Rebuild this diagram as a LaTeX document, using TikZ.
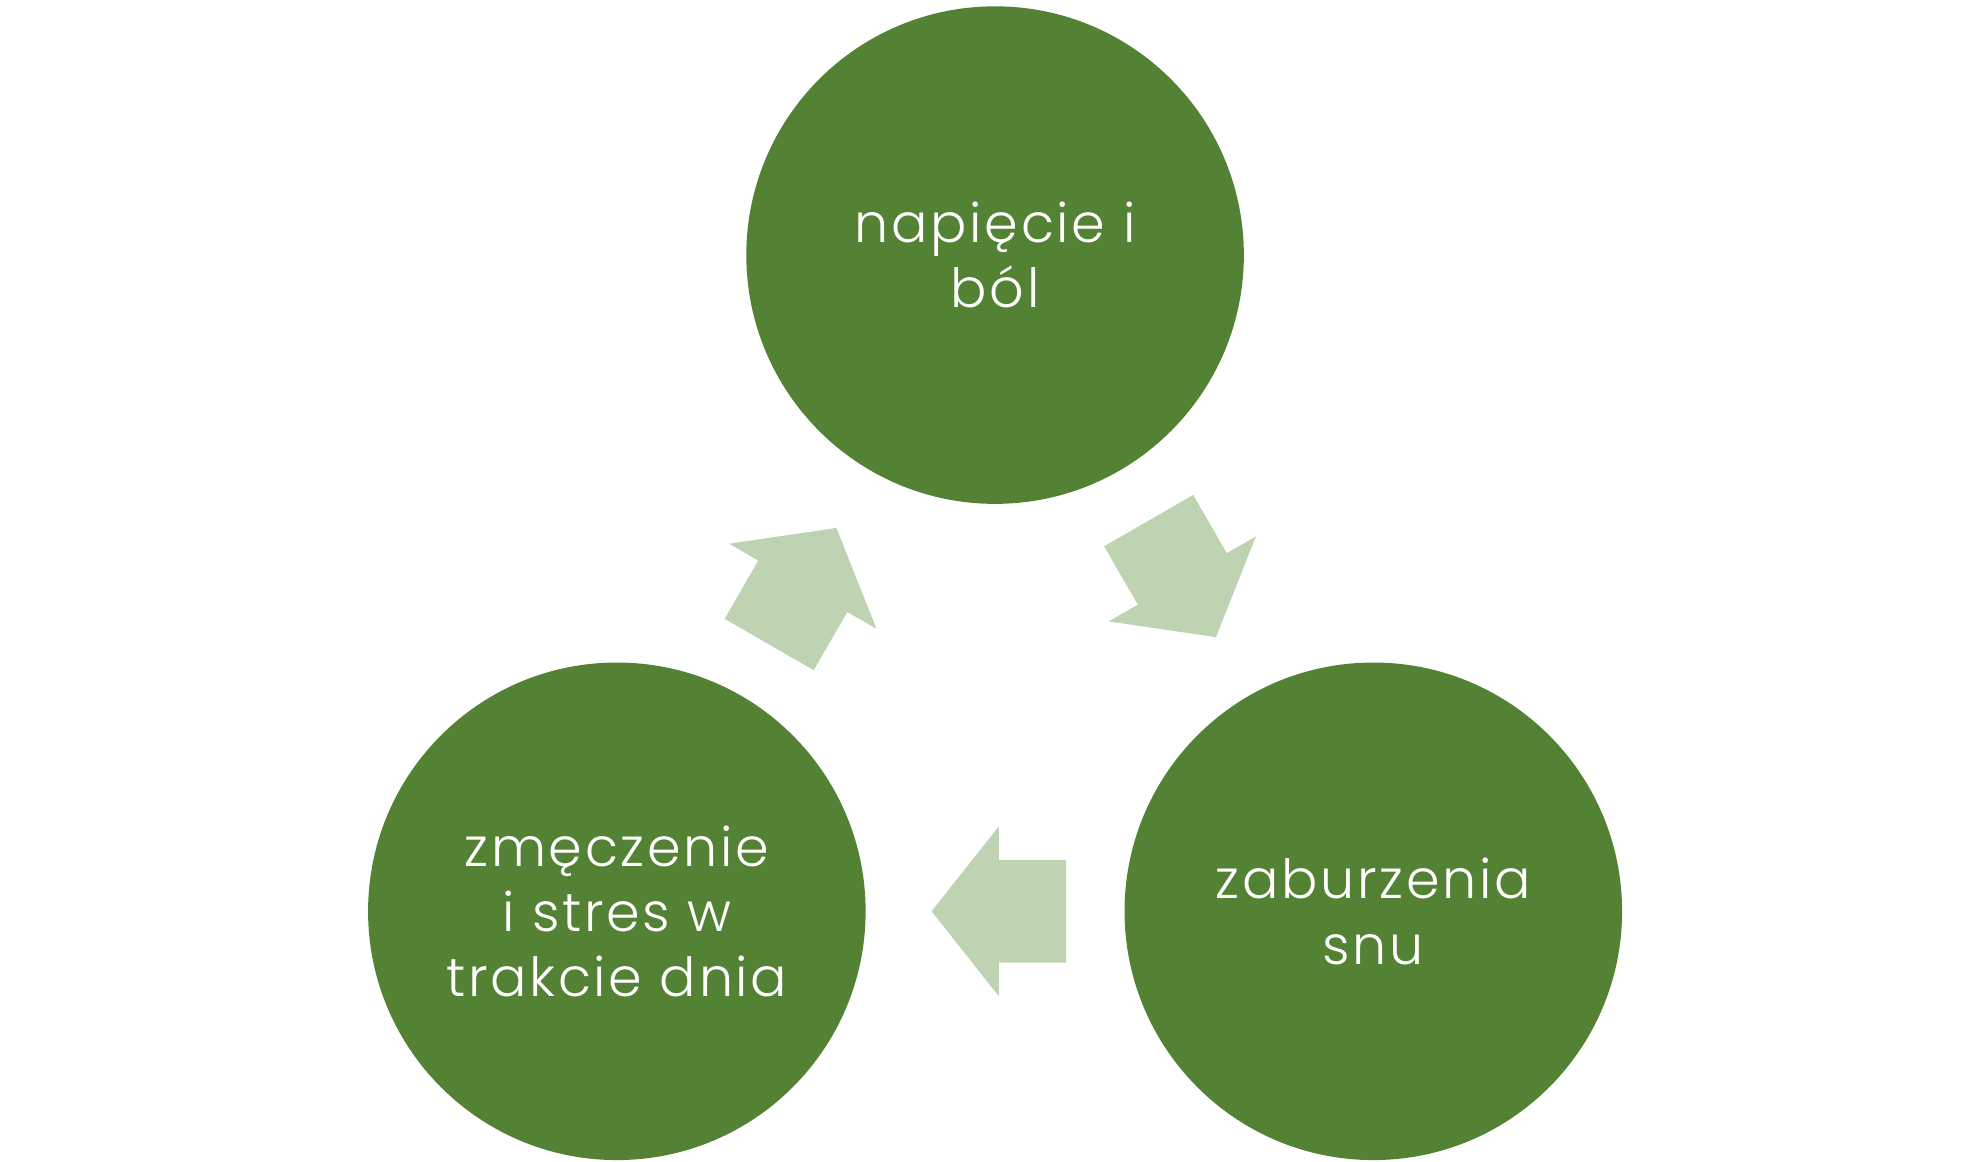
\documentclass[tikz,border=0pt]{standalone}
\usepackage{fontspec}
\IfFontExistsTF{Poppins Light}
  {\setmainfont{Poppins Light}[LetterSpace=5]}
  {\setmainfont{Poppins}[LetterSpace=5]}
\definecolor{circ}{RGB}{84,130,53}
\definecolor{arr}{RGB}{189,211,177}
\tikzset{
  bubble/.style={circle,fill=circ,draw=none,minimum size=392pt,inner sep=0pt,
    text=white,align=center,font=\fontsize{42.5}{51.5}\selectfont},
  cyclearrow/.style={fill=arr,draw=none}
}
\newcommand{\cycarrow}[3]{% name, tip position, angle
  \begin{scope}[shift={#2},rotate=#3]
    \coordinate (#1) at (0,0);
    \fill[cyclearrow] (0,0) -- (-53,67) -- (-53,40.5) -- (-106,40.5) -- (-106,-40.5) -- (-53,-40.5) -- (-53,-67) -- cycle;
  \end{scope}}
\begin{document}
\begin{tikzpicture}[x=1pt,y=1pt]
\useasboundingbox (0,0) rectangle (1560,915);
\node[bubble] (top) at (784,714) {napięcie i\\ból};
\node[bubble] (br) at (1082,197) {zaburzenia\\snu};
\node[bubble] (bl) at (486,197) {zmęczenie\\i stres w\\trakcie dnia};
\cycarrow{a1}{(958,413)}{-60}
\cycarrow{a2}{(734,197)}{180}
\cycarrow{a3}{(659,499)}{60}
\end{tikzpicture}
\end{document}
